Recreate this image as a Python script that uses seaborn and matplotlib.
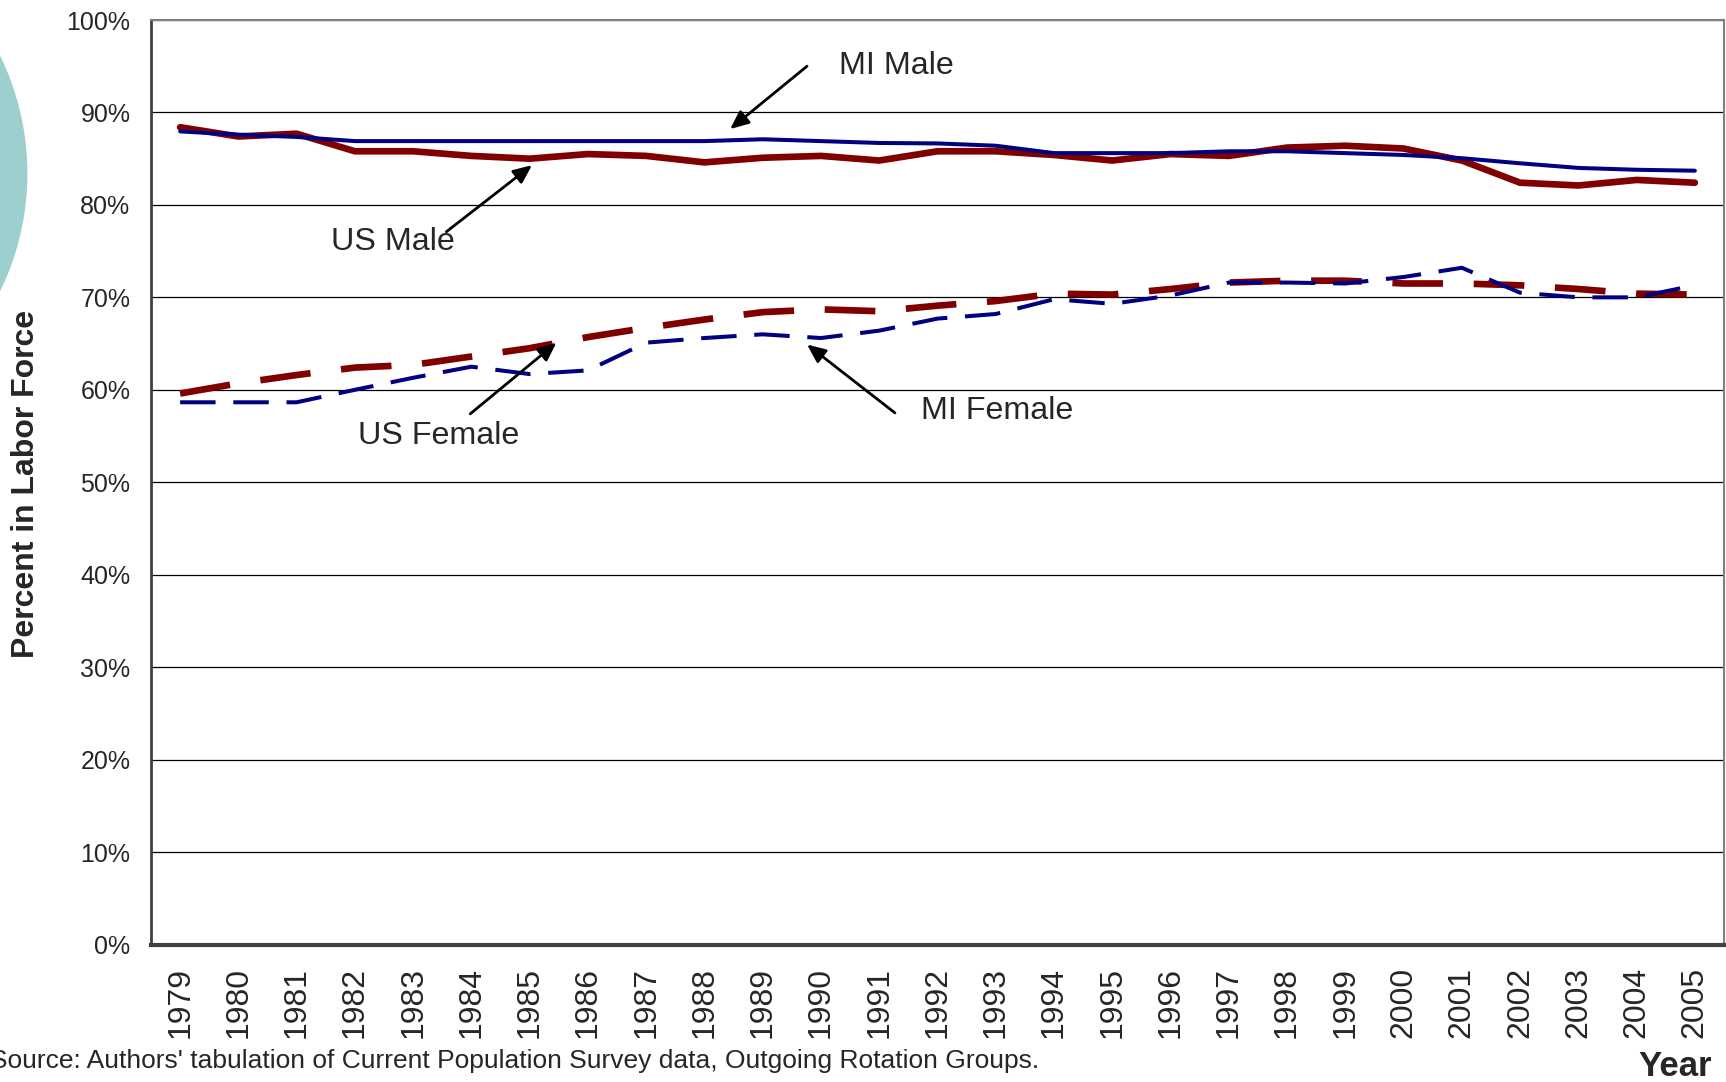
import matplotlib
matplotlib.use("Agg")
import matplotlib.pyplot as plt
from matplotlib.patches import Ellipse
import pandas as pd
import seaborn as sns

# 資料：勞動參與率 (%)
years = list(range(1979, 2006))
mi_male = [87.95, 87.6, 87.35, 86.9, 86.9, 86.9, 86.9, 86.9, 86.9, 86.9, 87.1, 86.9, 86.7, 86.65,
           86.4, 85.6, 85.6, 85.6, 85.8, 85.8, 85.6, 85.4, 85.05, 84.5, 84.0, 83.8, 83.7]
us_male = [88.4, 87.4, 87.7, 85.8, 85.8, 85.3, 85.0, 85.5, 85.3, 84.6, 85.1, 85.3, 84.8, 85.8,
           85.8, 85.4, 84.8, 85.5, 85.3, 86.2, 86.4, 86.1, 84.8, 82.4, 82.1, 82.7, 82.4]
mi_female = [58.65, 58.65, 58.65, 60.0, 61.3, 62.5, 61.7, 62.1, 65.1, 65.6, 66.0, 65.6, 66.4, 67.7,
             68.2, 69.8, 69.3, 70.2, 71.6, 71.6, 71.5, 72.2, 73.2, 70.5, 70.0, 70.0, 71.3]
us_female = [59.6, 60.7, 61.6, 62.4, 62.7, 63.6, 64.5, 65.7, 66.7, 67.6, 68.4, 68.7, 68.5, 69.1,
             69.6, 70.4, 70.3, 70.9, 71.6, 71.8, 71.8, 71.5, 71.5, 71.3, 70.9, 70.4, 70.3]
series_names = ['MI Male', 'US Male', 'MI Female', 'US Female']
y_ticks = list(range(0, 101, 10))
y_tick_labels = [f'{v}%' for v in y_ticks]

df = pd.DataFrame({
    'Year': years * 4,
    'Value': mi_male + us_male + mi_female + us_female,
    'Series': [s for s in series_names for _ in years],
})

sns.set_style('white')
plt.rcParams['font.family'] = ['Liberation Sans', 'DejaVu Sans']

navy = '#000080'
maroon = '#800000'

fig = plt.figure(figsize=(17.26, 10.82), dpi=100)
ax = fig.add_axes([151 / 1726, 1 - 944.5 / 1082, (1724 - 151) / 1726, (944.5 - 20) / 1082])

# 左側裝飾圓
fig.patches.append(Ellipse((-240.8 / 1726, 1 - 173.5 / 1082), 535 / 1726, 535 / 1082,
                           transform=fig.transFigure, color='#9ecfcf', zorder=0))

sns.lineplot(data=df, x='Year', y='Value', hue='Series', style='Series', size='Series',
             palette={'MI Male': navy, 'US Male': maroon, 'MI Female': navy, 'US Female': maroon},
             dashes={'MI Male': '', 'US Male': '', 'MI Female': (8.8, 4.4), 'US Female': (7.6, 4.6)},
             sizes={'MI Male': 2.9, 'US Male': 4.8, 'MI Female': 2.9, 'US Female': 4.8},
             hue_order=['US Male', 'MI Male', 'US Female', 'MI Female'],
             legend=False, ax=ax, solid_capstyle='round', solid_joinstyle='round',
             dash_capstyle='butt', zorder=3)

ax.set_xlim(1978.5, 2005.5)
ax.set_ylim(0, 100)
ax.set_yticks(y_ticks)
ax.set_yticklabels(y_tick_labels, fontsize=18)
ax.set_xticks(years)
ax.set_xticklabels([str(y) for y in years], rotation=90, fontsize=23)
ax.set_xticks([y - 0.5 for y in years] + [2005.5], minor=True)
ax.tick_params(axis='x', which='major', length=0, pad=16)
ax.tick_params(axis='x', which='minor', length=6.5, width=1.2, color='#404040', direction='out')
ax.tick_params(axis='y', which='major', length=5.8, width=1.2, color='#404040', direction='out', pad=9)
ax.set_xlabel('')
ax.set_ylabel('')

ax.grid(axis='y', color='black', lw=0.9)
ax.grid(axis='x', visible=False)
ax.set_axisbelow(True)
for side in ['top', 'right']:
    ax.spines[side].set_color('#808080')
    ax.spines[side].set_linewidth(1.5)
ax.spines['left'].set_color('#404040')
ax.spines['left'].set_linewidth(2)
ax.spines['bottom'].set_color('#404040')
ax.spines['bottom'].set_linewidth(3)

# 標註
arrow = dict(arrowstyle='-|>,head_length=0.8,head_width=0.35', color='black', lw=2,
             mutation_scale=14, shrinkA=0, shrinkB=0)
labels = [
    ('MI Male', (1990.31, 95.0), (1989.76, 95.0), (1988.44, 88.2)),
    ('US Male', (1981.59, 75.95), (1983.57, 77.1), (1985.04, 84.3)),
    ('US Female', (1982.06, 55.0), (1983.98, 57.4), (1985.46, 65.1)),
    ('MI Female', (1991.71, 57.7), (1991.27, 57.5), (1989.76, 64.9)),
]
for txt, pos, tail, head in labels:
    ax.text(pos[0], pos[1], txt, fontsize=23.2, ha='left', va='center', zorder=5)
    ax.annotate('', xy=head, xytext=tail, arrowprops=arrow, zorder=5)

fig.text(26 / 1726, 1 - 484 / 1082, 'Percent in Labor Force', rotation=90, fontsize=23,
         fontweight='bold', ha='center', va='center')
fig.text(1712 / 1726, 1 - 1066 / 1082, 'Year', fontsize=25, fontweight='bold', ha='right', va='center')
fig.text(1039 / 1726, 1 - 1061 / 1082,
         "Source: Authors' tabulation of Current Population Survey data, Outgoing Rotation Groups.",
         fontsize=19, ha='right', va='center')

plt.savefig('out.png', dpi=100)
